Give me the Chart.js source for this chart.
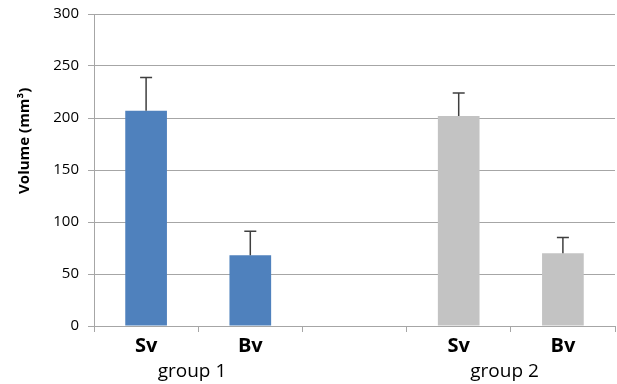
<!DOCTYPE html>
<html>
<head>
<meta charset="utf-8">
<script src="https://cdn.jsdelivr.net/npm/chart.js@4/dist/chart.umd.min.js"></script>
<style>
html,body{margin:0;padding:0;background:#fff;}
#wrap{width:617px;height:384px;position:relative;}
</style>
</head>
<body>
<div id="wrap"><canvas id="c" width="617" height="384"></canvas></div>
<script>
const categories = ['Sv', 'Bv', '', 'Sv', 'Bv'];
const groupLabels = ['group 1', 'group 2'];
const meanValues = [207, 68, null, 202, 70];
const errorValues = [32, 23, null, 22, 15];
const barColors = ['#4F81BD', '#4F81BD', '#4F81BD', '#C3C3C3', '#C3C3C3'];
const yTicks = [0, 50, 100, 150, 200, 250, 300];
const yTitle = 'Volume (mm³)';

const errorBarPlugin = {
  id: 'errorBars',
  afterDatasetsDraw(chart) {
    const ctx = chart.ctx;
    const meta = chart.getDatasetMeta(0);
    const y = chart.scales.y;
    ctx.save();
    ctx.strokeStyle = '#3F3F3F';
    ctx.lineWidth = 1.5;
    meta.data.forEach((bar, i) => {
      if (meanValues[i] == null) return;
      const x = bar.x;
      const y0 = y.getPixelForValue(meanValues[i]);
      const y1 = y.getPixelForValue(meanValues[i] + errorValues[i]);
      ctx.beginPath();
      ctx.moveTo(x, y0);
      ctx.lineTo(x, y1);
      ctx.moveTo(x - 6, y1);
      ctx.lineTo(x + 6, y1);
      ctx.stroke();
    });
    ctx.restore();
  }
};

const FONT = 'Open Sans, Liberation Sans, sans-serif';

new Chart(document.getElementById('c'), {
  type: 'bar',
  data: {
    labels: categories,
    datasets: [{
      data: meanValues,
      backgroundColor: barColors,
      barPercentage: 0.8,
      categoryPercentage: 0.5
    }]
  },
  options: {
    responsive: false,
    animation: false,
    layout: { padding: { top: 14, right: 2, left: 0, bottom: 0 } },
    plugins: { legend: { display: false }, tooltip: { enabled: false } },
    scales: {
      x: {
        position: 'bottom',
        grid: { drawOnChartArea: false, drawTicks: true, tickLength: 6, offset: true, color: '#A6A6A6', lineWidth: 1 },
        border: { color: '#A6A6A6', width: 1 },
        ticks: { color: '#000', font: { family: FONT, size: 20, weight: 'bold' }, padding: 2 },
        afterFit(s) { s.height = 33; }
      },
      x2: {
        type: 'linear',
        position: 'bottom',
        offset: false,
        min: 0, max: 5,
        grid: { display: false, offset: false },
        border: { display: false },
        afterBuildTicks(s) { s.ticks = [{ value: 0.94 }, { value: 3.94 }]; },
        ticks: {
          color: '#000',
          font: { family: FONT, size: 19 },
          padding: -7,
          callback: (v, i) => groupLabels[i]
        },
        afterFit(s) { s.height = 25; }
      },
      y: {
        min: 0, max: 300,
        afterBuildTicks(s) { s.ticks = yTicks.map(v => ({ value: v })); },
        grid: { color: '#A6A6A6', lineWidth: 1, tickLength: 6 },
        border: { color: '#A6A6A6', width: 1 },
        ticks: { color: '#000', font: { family: FONT, size: 15, lineHeight: 1 }, padding: 9 },
        title: {
          display: true,
          text: '\u00A0'.repeat(15) + yTitle,
          color: '#000',
          font: { family: FONT, size: 15, weight: 'bold' },
          padding: { top: 16, bottom: 0 }
        },
        afterFit(s) { s.width = 94; s.paddingTop = 0; s.paddingBottom = 0; }
      }
    }
  },
  plugins: [errorBarPlugin]
});
</script>
</body>
</html>
